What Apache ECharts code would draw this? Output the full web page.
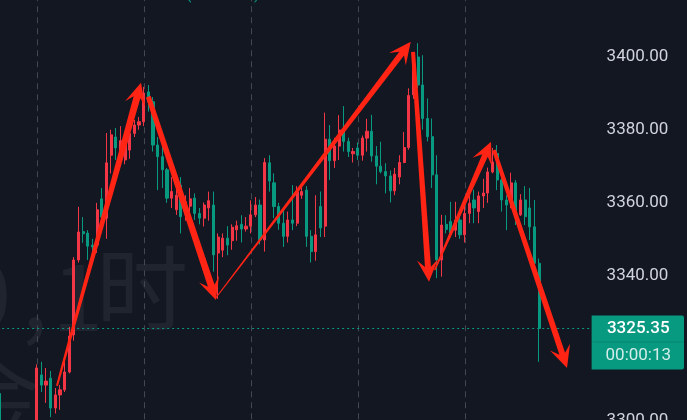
<!DOCTYPE html>
<html><head><meta charset="utf-8">
<script src="https://cdn.jsdelivr.net/npm/echarts/dist/echarts.min.js"></script>
<style>html,body{margin:0;padding:0;background:#131722;overflow:hidden}#c{width:687px;height:420px}</style>
</head><body><div id="c"></div>
<script>
// ---- data ----
const opens = [3307.5,3296,3293,3290,3292,3289,3291,3288,3295,3312.6,3309.8,3311.7,3303.5,3307.1,3308.5,3313.4,3323.6,3344.2,3352,3351.6,3348.3,3348.3,3361,3355.7,3373,3378,3373,3371.7,3374.4,3379,3381.3,3382.2,3390.4,3387.7,3375.8,3372.6,3369,3361.2,3358,3364.8,3358.4,3359,3361.2,3357,3355.7,3358.5,3359.3,3346.1,3346.9,3350.2,3349.5,3352.5,3354,3352.7,3353.5,3356.6,3359.3,3349.7,3370.9,3365.4,3358.9,3354.3,3350.7,3355.2,3354.3,3362,3363.4,3350.7,3346.5,3358.9,3353.5,3377.4,3371.5,3375.5,3380,3376.8,3373.4,3375,3373,3377.7,3379.6,3372.8,3370,3368.5,3367.3,3363.2,3367,3371,3375.1,3389.6,3400,3392.3,3383.1,3378.1,3367.6,3344.2,3354,3354.8,3352.4,3355.2,3351.1,3357,3360.7,3357.5,3361.8,3362.6,3368.4,3373.5,3366.2,3360.7,3359.3,3365.4,3356.6,3360.7,3358.5,3353.3,3343.3];
const closes = [3296,3293,3290,3292,3289,3291,3288,3295,3314.5,3309.8,3310.9,3303.5,3307.1,3308.5,3313.4,3323.3,3344.2,3351.9,3351.4,3348,3347.8,3358,3356,3370.9,3378.6,3375,3377,3376.4,3379,3381.3,3382.2,3390.1,3387.7,3375.8,3372.6,3369,3361.2,3363,3362,3356.1,3360.2,3361,3357,3355.7,3359.3,3360.5,3345.6,3350.5,3350.2,3348.3,3353.2,3353.6,3352.7,3353.5,3356.6,3359.3,3349.7,3371,3365.9,3358.9,3354.3,3350.7,3355.2,3354.3,3362.9,3363,3350.7,3346.5,3351.1,3353,3377.4,3371.5,3375.5,3379.9,3376.8,3374,3374,3373,3377.7,3379.6,3372.8,3370,3368.5,3367.3,3363.2,3367.8,3371,3375.1,3389.4,3400,3392.3,3383.1,3378.1,3367.6,3344.2,3353.8,3352.6,3351.6,3355.2,3351.1,3357,3359.8,3358.5,3361.8,3362.6,3368.4,3371.1,3366.2,3360.7,3359.3,3365.4,3356.6,3360.7,3356.1,3353.3,3343.3,3325.35];
const lows = [3290,3289,3286,3287,3285,3286,3284,3286,3292,3307.9,3304.9,3301,3302,3303,3307.9,3313,3322,3343.5,3348.9,3344.2,3345,3346.1,3353,3350,3368,3371.7,3370,3370.5,3372,3378,3380,3381,3385,3374,3363.4,3364,3359.9,3358.5,3356.6,3351.5,3355,3355,3355.2,3354,3353.4,3355,3341,3333.5,3345,3345.5,3347,3349.5,3349,3352,3351.5,3356,3348.5,3346.5,3363,3355.7,3352.5,3347.8,3349,3352.4,3353.5,3361,3347.8,3343.5,3344,3350.5,3350.5,3366.2,3369.5,3371.7,3374,3372.5,3371,3371.7,3371.5,3374,3371.2,3365,3368,3362.5,3360,3362,3365,3370.8,3374.5,3388.5,3391.4,3380,3376.8,3364,3339.2,3339.6,3351.5,3351.5,3350.5,3350,3349,3354.3,3354.3,3354.3,3358.5,3359.9,3368,3363.4,3357.5,3352.4,3358.4,3353.8,3356.3,3353.8,3349.7,3342.8,3316.2];
const highs = [3309,3298,3296,3295,3294,3294,3293,3297,3315.5,3316.2,3314.5,3313.7,3309,3309.8,3317.8,3325.8,3345,3358.8,3356,3352.4,3350,3359.9,3364,3379.1,3380,3380.5,3381,3378,3380,3382.7,3383.5,3391.8,3392.3,3389,3378,3376,3369.5,3367,3367.6,3367,3362,3364,3362.5,3358.5,3360,3363,3363,3351.5,3351.5,3353.5,3354,3355,3356.5,3356,3360.6,3361.5,3360.8,3372.2,3373,3368,3359.9,3357.9,3357.5,3364.8,3364.5,3364.5,3364.5,3352.4,3362,3363,3384.7,3381.3,3377.8,3384,3386.5,3377.8,3375,3376.5,3378.4,3383,3384.1,3375.5,3376.7,3370.8,3368.8,3369.5,3373,3379.4,3391.4,3401,3403.8,3400.5,3388.6,3383.1,3373,3356.6,3356.5,3360.2,3360.2,3356.6,3360,3362.5,3363.5,3363,3366.5,3369.6,3375,3375.8,3367.1,3362,3368.2,3366.2,3362.3,3364.5,3364,3360.7,3344.6];
const slotCount = 128;                  // candle slots on the time axis (last ones empty)
const dayStarts = [8, 31, 54, 77, 100]; // candle indexes where a new day starts
const yMin = 3280, yMax = 3420, yStep = 20;
const lastPrice = 3325.35;
const countdown = '00:00:13';
// hand-drawn arrows: [candle index, price] from -> to
const arrowFrom = [[12.36,3309.6],[31.99,3389.1],[46.54,3333.8],[88.9,3401.4],[93.55,3341.4],[106.3,3374.4]];
const arrowTo   = [[30.42,3392.9],[46.54,3333.2],[88.4,3404.2],[92.33,3338.2],[105.66,3376.7],[122.0,3314.5]];

// ---- styles ----
const BG = '#131722', UP = '#f23645', DOWN = '#089981', ARROW = '#ff2414';
const arrowTailW = [2, 5, 1, 4, 1.5, 4];
const arrowShaftW = [7, 7, 6, 6, 6, 6];

const categories = Array.from({length: slotCount}, (_, i) => String(i));
const candles = opens.map((o, i) => [o, closes[i], lows[i], highs[i]]);
const arrows = arrowFrom.map((f, i) => [f[0], f[1], arrowTo[i][0], arrowTo[i][1]]);
const dayLines = dayStarts.map(k => [k, yMin]);

const band = 4.652;
const gridLeft = 36.7 - 8.5 * band;
const gridTop = 57 - (yMax - 3400) / 20 * 72.75;
const gridHeight = (yMax - yMin) / 20 * 72.75;

const chart = echarts.init(document.getElementById('c'), null, {renderer: 'canvas'});

function arrowItem(params, api) {
  const i = params.dataIndex;
  const p1 = api.coord([api.value(0), api.value(1)]);
  const p2 = api.coord([api.value(2), api.value(3)]);
  const dx = p2[0] - p1[0], dy = p2[1] - p1[1];
  const len = Math.hypot(dx, dy);
  const ux = dx / len, uy = dy / len, nx = -uy, ny = ux;
  const t = arrowTailW[i] / 2, s = arrowShaftW[i] / 2;
  const H = 22, W = 10.5, N = 15;
  const bx = p2[0] - ux * H, by = p2[1] - uy * H;
  const jx = p2[0] - ux * N, jy = p2[1] - uy * N;
  return {
    type: 'polygon',
    shape: {points: [
      [p1[0] + nx * t, p1[1] + ny * t],
      [jx + nx * s, jy + ny * s],
      [bx + nx * W, by + ny * W],
      [p2[0], p2[1]],
      [bx - nx * W, by - ny * W],
      [jx - nx * s, jy - ny * s],
      [p1[0] - nx * t, p1[1] - ny * t]
    ]},
    style: {fill: ARROW}
  };
}

function dayLineItem(params, api) {
  const x = Math.round(api.coord([api.value(0), api.value(1)])[0]) + 0.5;
  const cs = params.coordSys;
  return {type: 'line', shape: {x1: x, y1: cs.y, x2: x, y2: cs.y + cs.height},
    style: {stroke: '#434752', lineWidth: 1, lineDash: [6, 5]}};
}

chart.setOption({
  backgroundColor: BG,
  animation: false,
  grid: {left: gridLeft, top: gridTop, width: slotCount * band, height: gridHeight, outerBoundsMode: 'none', containLabel: false},
  xAxis: [
    {type: 'category', data: categories, boundaryGap: true, show: false},
    {type: 'value', min: -0.5, max: slotCount - 0.5, show: false}
  ],
  yAxis: {
    type: 'value', position: 'right', min: yMin, max: yMax, interval: yStep,
    axisLine: {show: true, lineStyle: {color: '#363a45', width: 1}},
    axisTick: {show: false},
    splitLine: {show: false},
    axisLabel: {color: '#d1d4dc', fontSize: 17, fontFamily: 'Roboto, "Noto Sans", sans-serif', margin: 14,
      formatter: v => v.toFixed(2)}
  },
  series: [
    {type: 'custom', xAxisIndex: 1, renderItem: dayLineItem, data: dayLines, z: 0, silent: true,
      encode: {x: 0, y: 1}},
    {type: 'candlestick', xAxisIndex: 0, data: candles, barWidth: 2.6, z: 2,
      itemStyle: {color: UP, color0: DOWN, borderColor: UP, borderColor0: DOWN, borderWidth: 1},
      markLine: {symbol: 'none', silent: true, animation: false, label: {show: false},
        lineStyle: {color: DOWN, type: [2, 3], width: 1.2},
        data: [{yAxis: lastPrice}]}},
    {type: 'custom', xAxisIndex: 1, renderItem: arrowItem, data: arrows, z: 5, silent: true, clip: false,
      encode: {x: [0, 2], y: [1, 3]}}
  ]
});

// watermark, header remnants and the price tag (tag placed through the scales)
const tagPt = chart.convertToPixel({seriesIndex: 2}, [slotCount - 0.5, lastPrice]);
const axisX = tagPt[0], py = tagPt[1];
const wmFont = '92px "Noto Sans CJK SC", "Noto Sans", sans-serif';
const wmFill = 'rgba(255,255,255,0.06)';
chart.setOption({graphic: [
  {type: 'text', id: 'w0', x: -40, y: 248, z: -10, silent: true, style: {text: '0', font: wmFont, fill: wmFill}},
  {type: 'text', id: 'w1', x: 22, y: 248, z: -10, silent: true, style: {text: ',', font: wmFont, fill: wmFill}},
  {type: 'text', id: 'w2', x: 52, y: 250, z: -10, silent: true, style: {text: '1', font: wmFont, fill: wmFill}},
  {type: 'text', id: 'w3', x: 96, y: 242, z: -10, silent: true, style: {text: '时', font: wmFont, fill: wmFill}},
  {type: 'text', id: 'w4', x: -52, y: 352, z: -10, silent: true, style: {text: '金', font: wmFont, fill: wmFill}},
  {type: 'text', id: 'h1', x: 186, y: -13, silent: true, style: {text: '(', font: '16px Roboto', fill: DOWN}},
  {type: 'text', id: 'h2', x: 254, y: -13, silent: true, style: {text: ')', font: '16px Roboto', fill: DOWN}},
  {type: 'rect', id: 'tag', z: 100, shape: {x: axisX - 1, y: py - 13, width: 684 - axisX + 1, height: 54, r: [0, 2, 2, 0]}, style: {fill: DOWN}},
  {type: 'line', id: 'sep', z: 101, shape: {x1: axisX, y1: py + 13.5, x2: 684, y2: py + 13.5}, style: {stroke: 'rgba(0,0,0,0.12)', lineWidth: 1}},
  {type: 'text', id: 't1', z: 102, x: (axisX + 684) / 2, y: py + 0.5, style: {text: lastPrice.toFixed(2), fill: '#ffffff', font: '500 17px Roboto, sans-serif', align: 'center', verticalAlign: 'middle'}},
  {type: 'text', id: 't2', z: 102, x: (axisX + 684) / 2, y: py + 27.5, style: {text: countdown, fill: 'rgba(255,255,255,0.82)', font: '17px Roboto, sans-serif', align: 'center', verticalAlign: 'middle'}}
]});
</script></body></html>
